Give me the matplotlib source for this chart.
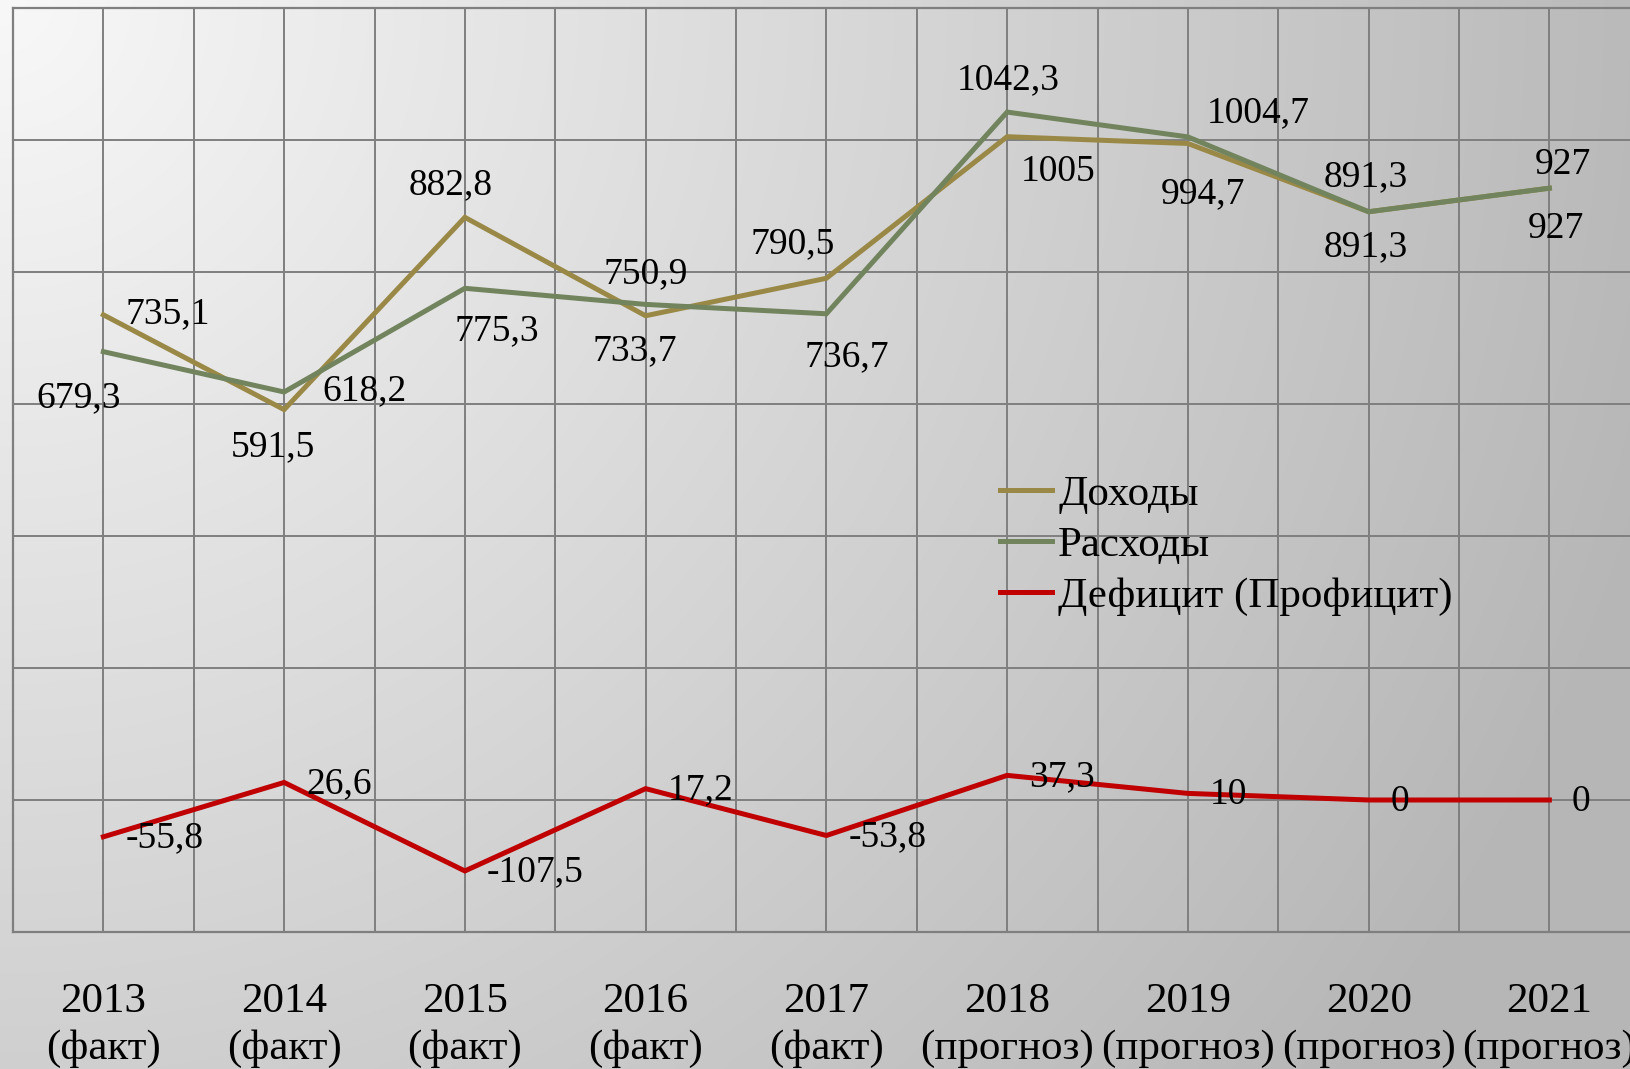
import numpy as np
import matplotlib
matplotlib.use("Agg")
import matplotlib.pyplot as plt

plt.rcParams['font.family'] = ['Liberation Serif', 'DejaVu Serif']

# data
years = ["2013\n(факт)", "2014\n(факт)", "2015\n(факт)", "2016\n(факт)", "2017\n(факт)",
         "2018\n(прогноз)", "2019\n(прогноз)", "2020\n(прогноз)", "2021\n(прогноз)"]
dohody = [735.1, 591.5, 882.8, 733.7, 790.5, 1005, 994.7, 891.3, 927]
rashody = [679.3, 618.2, 775.3, 750.9, 736.7, 1042.3, 1004.7, 891.3, 927]
deficit = [-55.8, 26.6, -107.5, 17.2, -53.8, 37.3, 10, 0, 0]

# label offsets in points (dx, dy)
off_doh = [(46, 1), (-8, -27), (-10, 23), (-8, -25), (-24, 25), (37, -25), (11, -36), (-2, -25), (5, -29)]
off_ras = [(-18, -33), (58, 1), (23, -31), (0, 22), (15, -31), (1, 23), (51, 17), (-2, 25), (10, 17)]

c_doh = "#9a8946"
c_ras = "#71845d"
c_def = "#c00000"
grid_c = "#7f7f7f"

W, H = 1630, 1069
fig = plt.figure(figsize=(W / 100, H / 100), dpi=100)

# gradient background
bg = fig.add_axes([0, 0, 1, 1], zorder=-10)
yy, xx = np.mgrid[0:H, 0:W]
d = np.sqrt(xx ** 2 + yy ** 2) / 1630.0
v = np.clip(248 - 62 * d, 182, 255) / 255.0
bg.imshow(np.dstack([v, v, v]), aspect='auto', extent=[0, 1, 0, 1])
bg.axis('off')

ax = fig.add_axes([13 / W, 1 - 932 / H, 1 - 13 / W, (932 - 8) / H])
ax.patch.set_alpha(0)
x = np.arange(len(years))

ax.plot(x, dohody, color=c_doh, lw=3.6, label="Доходы", zorder=3, solid_joinstyle='miter')
ax.plot(x, rashody, color=c_ras, lw=3.6, label="Расходы", zorder=4, solid_joinstyle='miter')
ax.plot(x, deficit, color=c_def, lw=3.6, label="Дефицит (Профицит)", zorder=5, solid_joinstyle='miter')

def fmt(val):
    return ("%g" % val).replace(".", ",")

fs = 27
for i in range(len(x)):
    ax.annotate(fmt(dohody[i]), (x[i], dohody[i]), xytext=off_doh[i], textcoords='offset points',
                ha='center', va='center', fontsize=fs, zorder=6)
    ax.annotate(fmt(rashody[i]), (x[i], rashody[i]), xytext=off_ras[i], textcoords='offset points',
                ha='center', va='center', fontsize=fs, zorder=6)
    ax.annotate(fmt(deficit[i]), (x[i], deficit[i]), xytext=(16, -1), textcoords='offset points',
                ha='left', va='center', fontsize=fs, zorder=6)

ax.set_xticks(x)
ax.set_xticklabels(years, fontsize=31, linespacing=1.3)
ax.set_xticks(np.arange(-0.5, 9, 1), minor=True)
ax.set_yticks(np.arange(-200, 1201, 200))
ax.set_yticklabels([])
# limits after the ticks, so the minor ticks do not widen the view
ax.set_xlim(-0.5, -0.5 + (W - 13) / 180.75)
ax.set_ylim(-200, 1200)
ax.tick_params(axis='both', which='both', length=0)
ax.tick_params(axis='x', pad=36)
ax.grid(True, which='both', axis='x', color=grid_c, lw=1.4)
ax.grid(True, which='major', axis='y', color=grid_c, lw=1.4)
ax.set_axisbelow(True)
for s in ['left', 'top', 'bottom']:
    ax.spines[s].set_color(grid_c)
    ax.spines[s].set_linewidth(1.6)
ax.spines['right'].set_visible(False)

leg = ax.legend(loc='upper left', bbox_to_anchor=(1000 / W, 1 - 475 / H), bbox_transform=fig.transFigure,
                frameon=False, fontsize=31, handlelength=1.2, handletextpad=0.15,
                labelspacing=0.27, borderpad=0, borderaxespad=0)

fig.savefig("out.png", dpi=100)
